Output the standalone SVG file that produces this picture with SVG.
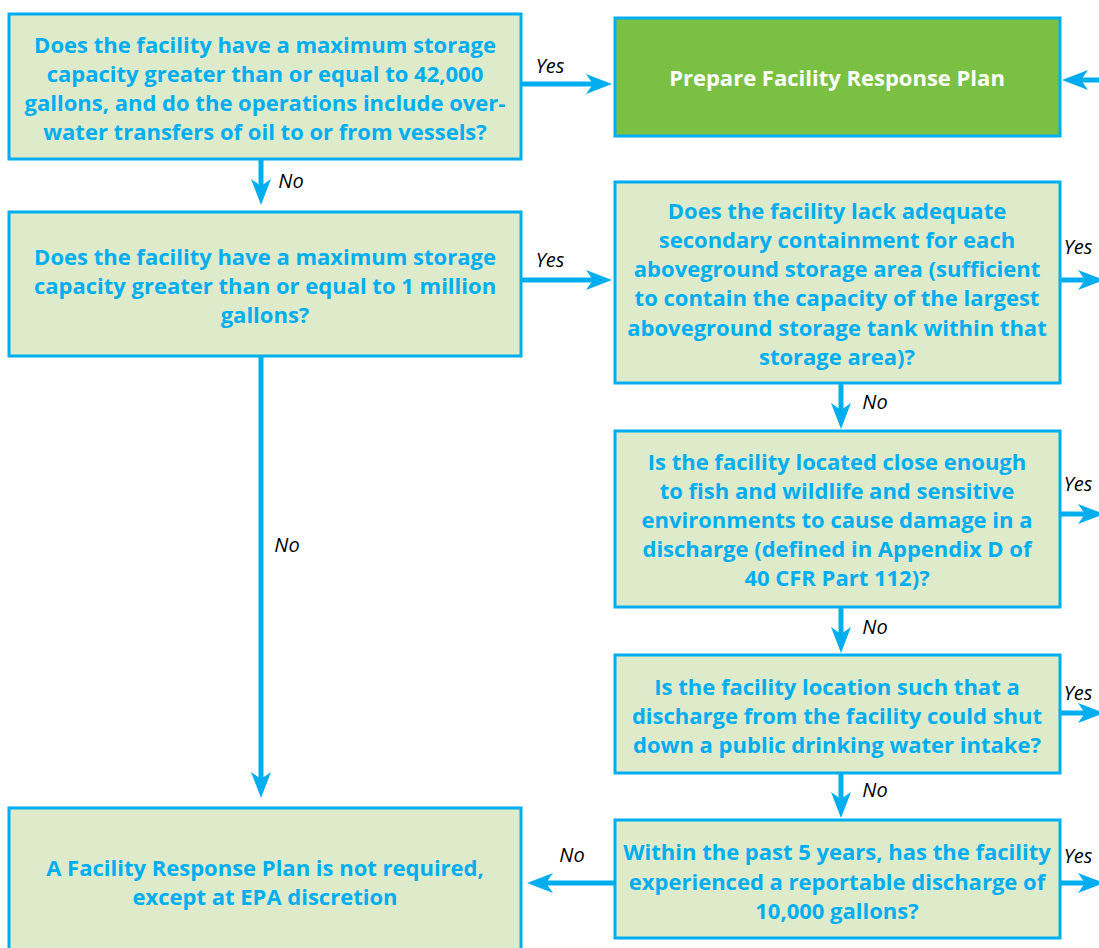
<svg xmlns="http://www.w3.org/2000/svg" width="1099" height="948" viewBox="0 0 1099 948">
<style>
.box{fill:#DDEBCB;stroke:#00AEEF;stroke-width:3}
.go{fill:#7AC143;stroke:#00AEEF;stroke-width:3}
.t{font-family:"Open Sans","Liberation Sans",sans-serif;font-weight:bold;font-size:22px;fill:#00AEEF;text-anchor:middle}
.w{fill:#FFFFFF}
.lbl{font-family:"Open Sans","Liberation Sans",sans-serif;font-style:italic;font-size:20px;fill:#000000;text-anchor:middle}
.c{fill:none;stroke:#00AEEF;stroke-width:5;marker-end:url(#ah)}
</style>
<defs>
<marker id="ah" viewBox="0 -12 30 24" refX="7" refY="0" markerWidth="30" markerHeight="24" markerUnits="userSpaceOnUse" orient="auto">
<path d="M0,-10 L26,0 L0,10 L7,0 Z" fill="#00AEEF"/>
</marker>
</defs>
<rect width="1099" height="948" fill="#FFFFFF"/>
<g id="q1">
<rect class="box" x="9" y="14" width="512" height="145"/>
<text class="t"><tspan x="265" y="53">Does the facility have a maximum storage</tspan><tspan x="265" y="82">capacity greater than or equal to 42,000</tspan><tspan x="265" y="111">gallons, and do the operations include over-</tspan><tspan x="265" y="140">water transfers of oil to or from vessels?</tspan></text>
</g>
<g id="frp">
<rect class="go" x="615" y="18" width="445" height="118"/>
<text class="t w" x="837" y="86">Prepare Facility Response Plan</text>
</g>
<g id="q2">
<rect class="box" x="9" y="212" width="512" height="144"/>
<text class="t"><tspan x="265" y="265">Does the facility have a maximum storage</tspan><tspan x="265" y="294">capacity greater than or equal to 1 million</tspan><tspan x="265" y="323">gallons?</tspan></text>
</g>
<g id="q3">
<rect class="box" x="615" y="182" width="445" height="201"/>
<text class="t"><tspan x="837" y="219">Does the facility lack adequate</tspan><tspan x="837" y="248">secondary containment for each</tspan><tspan x="837" y="277">aboveground storage area (sufficient</tspan><tspan x="837" y="306">to contain the capacity of the largest</tspan><tspan x="837" y="336">aboveground storage tank within that</tspan><tspan x="837" y="365">storage area)?</tspan></text>
</g>
<g id="q4">
<rect class="box" x="615" y="431" width="445" height="176"/>
<text class="t"><tspan x="837" y="470">Is the facility located close enough</tspan><tspan x="837" y="499">to fish and wildlife and sensitive</tspan><tspan x="837" y="528">environments to cause damage in a</tspan><tspan x="837" y="557">discharge (defined in Appendix D of</tspan><tspan x="837" y="586">40 CFR Part 112)?</tspan></text>
</g>
<g id="q5">
<rect class="box" x="615" y="655" width="445" height="118"/>
<text class="t"><tspan x="837" y="695">Is the facility location such that a</tspan><tspan x="837" y="724">discharge from the facility could shut</tspan><tspan x="837" y="753">down a public drinking water intake?</tspan></text>
</g>
<g id="q6">
<rect class="box" x="615" y="820" width="445" height="118"/>
<text class="t"><tspan x="837" y="860">Within the past 5 years, has the facility</tspan><tspan x="837" y="890">experienced a reportable discharge of</tspan><tspan x="837" y="919">10,000 gallons?</tspan></text>
</g>
<g id="notreq">
<rect class="box" x="9" y="808" width="512" height="160"/>
<text class="t"><tspan x="265" y="876">A Facility Response Plan is not required,</tspan><tspan x="265" y="905">except at EPA discretion</tspan></text>
</g>
<g id="connectors">
<path class="c" d="M521,84 H593"/>
<path class="c" d="M261,159 V186"/>
<path class="c" d="M521,280 H593"/>
<path class="c" d="M261,356 V779"/>
<path class="c" d="M841,383 V410"/>
<path class="c" d="M841,607 V634"/>
<path class="c" d="M841,773 V799"/>
<path class="c" d="M615,883 H546"/>
<path class="c" d="M1110,80 H1081"/>
<path class="c" d="M1060,280 H1085"/>
<path class="c" d="M1060,514 H1085"/>
<path class="c" d="M1060,713 H1085"/>
<path class="c" d="M1060,883 H1085"/>
<text class="lbl" x="550" y="73">Yes</text>
<text class="lbl" x="291" y="188">No</text>
<text class="lbl" x="550" y="267">Yes</text>
<text class="lbl" x="287" y="552">No</text>
<text class="lbl" x="1078" y="254">Yes</text>
<text class="lbl" x="875" y="409">No</text>
<text class="lbl" x="1078" y="491">Yes</text>
<text class="lbl" x="875" y="634">No</text>
<text class="lbl" x="1078" y="700">Yes</text>
<text class="lbl" x="875" y="797">No</text>
<text class="lbl" x="1078" y="863">Yes</text>
<text class="lbl" x="572" y="862">No</text>
</g>
</svg>
